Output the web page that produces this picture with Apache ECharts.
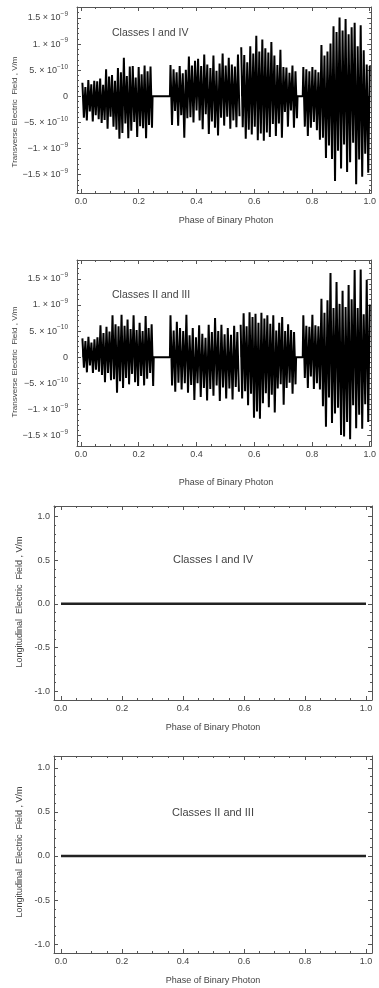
<!DOCTYPE html>
<html><head><meta charset="utf-8">
<script src="https://cdn.jsdelivr.net/npm/echarts@6/dist/echarts.min.js"></script>
<style>html,body{margin:0;padding:0;background:#fff}#c{width:379px;height:988px}</style>
</head><body><div id="c"></div>
<script>
// ---- tick values / labels ----
const phaseTicks = [0, 0.2, 0.4, 0.6, 0.8, 1.0];
const transTicks = [-15, -10, -5, 0, 5, 10, 15];           // units of 1e-10 V/m
const transTickLabels = ['−1.5 × 10{s|−9}', '−1. × 10{s|−9}', '−5. × 10{s|−10}', '0',
                         '5. × 10{s|−10}', '1. × 10{s|−9}', '1.5 × 10{s|−9}'];
const longTicks = [-1, -0.5, 0, 0.5, 1];

// ---- Transverse field, Classes I and IV (units 1e-10 V/m) ----
const p1Spans = [[0.005, 0.246], [0.31, 0.549], [0.555, 0.748], [0.77, 1.0]];
const p1SegA = [2.6, -4.1, 1.8, -4.6, 3.1, -2.9, 2.3, -4.8, 3.0, -3.6, 2.9, -4.4,
  3.4, -5.1, 2.2, -4.5, 5.2, -6.2, 3.8, -3.9, 4.1, -5.8, 3.0,
  -6.4, 5.4, -8.1, 4.6, -7.0, 7.4, -5.2, 3.9, -8.0, 5.7, -6.6,
  5.8, -4.9, 3.6, -7.8, 5.6, -5.7, 4.2, -6.1, 5.9, -8.0, 4.8, -5.5, 5.7, -6.0];
const p1SegB1 = [6.0, -5.5, 5.2, -2.8, 4.6, -5.6, 5.8, -3.6, 4.4, -7.9, 5.1, -4.2,
  7.6, -4.0, 5.9, -5.0, 6.8, -2.7, 7.2, -4.6,
  5.8, -6.3, 8.0, -3.4, 6.1, -7.2, 5.4, -4.8, 7.8, -6.0, 4.9, -7.5,
  6.3, -4.1, 8.2, -5.6, 5.9, -3.9, 7.4, -6.2, 6.1, -4.6, 5.7, -5.9, 8.0, -3.8];
const p1SegB2 = [9.4, -5.9, 7.9, -8.1, 6.5, -6.4, 9.6, -7.3, 8.2, -5.8,
  11.6, -8.4, 8.6, -7.1, 10.9, -8.5, 9.2, -6.9, 8.4, -7.8,
  10.4, -5.3, 7.8, -7.6, 6.0, -5.2, 8.9, -7.9, 5.6,
  -3.0, 5.5, -5.8, 4.5, -2.7, 5.9, -6.0, 4.8, -4.2];
const p1SegC = [5.6, -5.8, 5.2, -7.6, 4.8, -6.0, 5.6, -4.9, 5.1, -6.5, 4.6,
  -8.3, 9.8, -7.9, 7.8, -11.8, 8.6, -9.4, 10.1, -12.0,
  13.4, -16.2, 12.3, -10.4, 15.1, -13.8, 12.6, -9.2, 14.8, -14.5, 11.9, -12.6, 13.2, -8.9,
  14.1, -16.8, 9.6, -12.1, 13.6, -15.4, 8.8, -11.0, 6.1, -14.6, 5.8];

// ---- Transverse field, Classes II and III (units 1e-10 V/m) ----
const p2Spans = [[0.005, 0.25], [0.31, 0.547], [0.553, 0.743], [0.77, 1.0]];
const p2SegA = [3.6, -2.0, 3.1, -2.9, 3.9, -1.6, 2.8, -3.0, 3.4, -2.4, 3.8, -2.8,
  6.1, -3.4, 4.6, -4.8, 5.8, -3.0, 4.9, -4.4,
  8.0, -4.2, 6.3, -6.8, 5.9, -4.6, 8.1, -5.9, 6.0, -4.0, 7.2, -5.2,
  5.4, -3.2, 8.0, -4.8, 5.2, -5.5, 6.6, -3.6, 5.0, -5.4, 7.9, -4.1, 5.6, -3.0, 6.3, -5.5];
const p2SegB1 = [8.0, -5.4, 5.1, -6.6, 6.8, -4.9, 5.6, -6.2, 5.0, -5.0, 8.1, -6.8,
  4.2, -5.3, 5.6, -8.2, 3.8, -5.0, 6.1, -7.6, 4.5, -5.9, 3.7, -8.3, 6.2, -6.1, 4.8, -7.4, 7.5, -5.4,
  5.0, -8.4, 6.2, -5.8, 4.4, -7.9, 5.6, -6.0, 4.3, -8.1, 6.0, -5.7, 4.8, -6.6];
const p2SegB2 = [6.2, -7.9, 8.4, -6.5, 5.9, -9.2, 8.6, -7.0, 7.7, -11.6, 8.3, -10.4, 6.6, -11.8, 8.5, -8.8, 7.4, -6.9, 8.0, -9.6, 6.4,
  -7.2, 8.0, -10.6, 5.1, -6.0, 6.6, -5.2, 7.7, -9.1, 5.0, -5.9, 6.3, -4.9, 5.2, -7.0, 4.8, -5.2];
const p2SegC = [8.0, -4.0, 6.0, -5.9, 5.8, -3.7, 8.1, -6.1, 6.1, -5.0, 5.9,
  -6.2, 11.2, -9.4, 8.5, -13.3, 10.9, -7.7, 16.1, -12.6, 9.4, -10.8,
  14.4, -9.7, 10.2, -14.9, 12.7, -15.2, 9.6, -12.4, 13.8, -15.7, 11.1,
  -9.2, 16.7, -13.6, 9.4, -11.0, 16.8, -13.7, 8.2, -9.0, 14.8, -12.4, 10.1];

// ---- Longitudinal field (zero everywhere) ----
const longPhase = [0, 0.25, 0.5, 0.75, 1.0];
const longFieldA = [0, 0, 0, 0, 0];
const longFieldB = [0, 0, 0, 0, 0];

function build(spans, segs) {
  const pts = [];
  segs.forEach((vals, k) => {
    const a = spans[k][0], b = spans[k][1];
    if (k > 0) {
      const pe = spans[k - 1][1];
      if (a - pe > 0.01) { pts.push([pe + 0.002, 0]); pts.push([a - 0.002, 0]); }
      else pts.push([(pe + a) / 2, '-']);
    }
    vals.forEach((v, i) => pts.push([a + (b - a) * i / (vals.length - 1), v]));
  });
  return pts;
}

const FONT = '"Liberation Sans", Arial, sans-serif';
const TXT = '#444', FRAME = '#555';

const grids = [
  {left: 77, top: 7, width: 298, height: 186},
  {left: 77, top: 260, width: 298, height: 186},
  {left: 54, top: 506, width: 318, height: 194},
  {left: 54, top: 756, width: 318, height: 197}
];
const xR = [[-0.0137, 1.005], [-0.0137, 1.005], [-0.023, 1.0197], [-0.023, 1.0197]];
const yR = [[-18.5, 17.1], [-17.0, 18.6], [-1.1, 1.12], [-1.1, 1.134]];

function range(a, b, s) { const r = []; for (let v = a; v <= b + 1e-9; v += s) r.push(+v.toFixed(4)); return r; }
const xMinor = range(0, 1, 0.05).filter(v => !phaseTicks.some(t => Math.abs(t - v) < 1e-6));
const tMinor = range(-18, 18, 1).filter(v => v % 5 !== 0);
const lMinor = range(-1.1, 1.1, 0.1).filter(v => !longTicks.some(t => Math.abs(t - v) < 1e-6));

const xAxis = [], yAxis = [];
grids.forEach((g, gi) => {
  const trans = gi < 2;
  const mk = (pos, major, labels, isX) => {
    const r = isX ? xR[gi] : yR[gi];
    const vals = isX ? (major ? phaseTicks : xMinor) : (trans ? (major ? transTicks : tMinor) : (major ? longTicks : lMinor));
    const ax = {
      type: 'value', gridIndex: gi, min: r[0], max: r[1], position: pos,
      splitLine: {show: false},
      axisLine: {show: major, onZero: false, lineStyle: {color: FRAME, width: 1}},
      axisTick: {show: true, inside: true, length: major ? 4 : 2, customValues: vals, lineStyle: {color: FRAME, width: 1}},
      axisLabel: {show: false}
    };
    if (labels) {
      if (isX) {
        ax.axisLabel = {show: true, customValues: phaseTicks, formatter: v => v.toFixed(1),
          fontFamily: FONT, fontSize: 9, color: TXT, margin: 4};
      } else if (trans) {
        ax.axisLabel = {show: true, customValues: transTicks,
          formatter: v => transTickLabels[transTicks.indexOf(Math.round(v))],
          fontFamily: FONT, fontSize: 9, color: TXT, margin: 9, lineHeight: 14,
          rich: {s: {fontSize: 6.5, fontFamily: FONT, color: TXT, verticalAlign: 'top'}}};
      } else {
        ax.axisLabel = {show: true, customValues: longTicks, formatter: v => v.toFixed(1),
          fontFamily: FONT, fontSize: 9, color: TXT, margin: 4};
      }
    }
    return ax;
  };
  xAxis.push(mk('bottom', true, true, true), mk('bottom', false, false, true),
             mk('top', true, false, true), mk('top', false, false, true));
  yAxis.push(mk('left', true, true, false), mk('left', false, false, false),
             mk('right', true, false, false), mk('right', false, false, false));
});

const lineBase = {type: 'line', showSymbol: false, symbol: 'none', animation: false, connectNulls: false, silent: true};
const series = [
  Object.assign({}, lineBase, {xAxisIndex: 0, yAxisIndex: 0, data: build(p1Spans, [p1SegA, p1SegB1, p1SegB2, p1SegC]),
    lineStyle: {color: '#000', width: 2}, areaStyle: {color: '#000', opacity: 1, origin: 0}}),
  Object.assign({}, lineBase, {xAxisIndex: 4, yAxisIndex: 4, data: build(p2Spans, [p2SegA, p2SegB1, p2SegB2, p2SegC]),
    lineStyle: {color: '#000', width: 2}, areaStyle: {color: '#000', opacity: 1, origin: 0}}),
  Object.assign({}, lineBase, {xAxisIndex: 8, yAxisIndex: 8, data: longPhase.map((p, i) => [p, longFieldA[i]]),
    lineStyle: {color: '#222', width: 2.5}}),
  Object.assign({}, lineBase, {xAxisIndex: 12, yAxisIndex: 12, data: longPhase.map((p, i) => [p, longFieldB[i]]),
    lineStyle: {color: '#222', width: 2.5}})
];

const txt = (x, y, text, size, align, rot) => ({
  type: 'text', x: x, y: y, rotation: rot || 0, silent: true,
  style: {text: text, fontSize: size, fontFamily: FONT, fill: TXT, align: align || 'center', verticalAlign: 'middle'}
});
const graphic = [
  txt(112, 33, 'Classes I and IV', 10.5, 'left'),
  txt(112, 295, 'Classes II and III', 10.5, 'left'),
  txt(213, 560, 'Classes I and IV', 11),
  txt(213, 813, 'Classes II and III', 11),
  txt(226, 221, 'Phase of Binary Photon', 9),
  txt(226, 483, 'Phase of Binary Photon', 9),
  txt(213, 728, 'Phase of Binary Photon', 9),
  txt(213, 981, 'Phase of Binary Photon', 9),
  txt(15, 112, 'Transverse Electric  Field , V/m', 8, 'center', Math.PI / 2),
  txt(15, 362, 'Transverse Electric  Field , V/m', 8, 'center', Math.PI / 2),
  txt(20, 602, 'Longitudinal  Electric  Field , V/m', 9, 'center', Math.PI / 2),
  txt(20, 852, 'Longitudinal  Electric  Field , V/m', 9, 'center', Math.PI / 2)
];

const chart = echarts.init(document.getElementById('c'), null, {renderer: 'canvas'});
chart.setOption({animation: false, backgroundColor: '#fff', grid: grids, xAxis: xAxis, yAxis: yAxis, series: series, graphic: graphic});
</script></body></html>
